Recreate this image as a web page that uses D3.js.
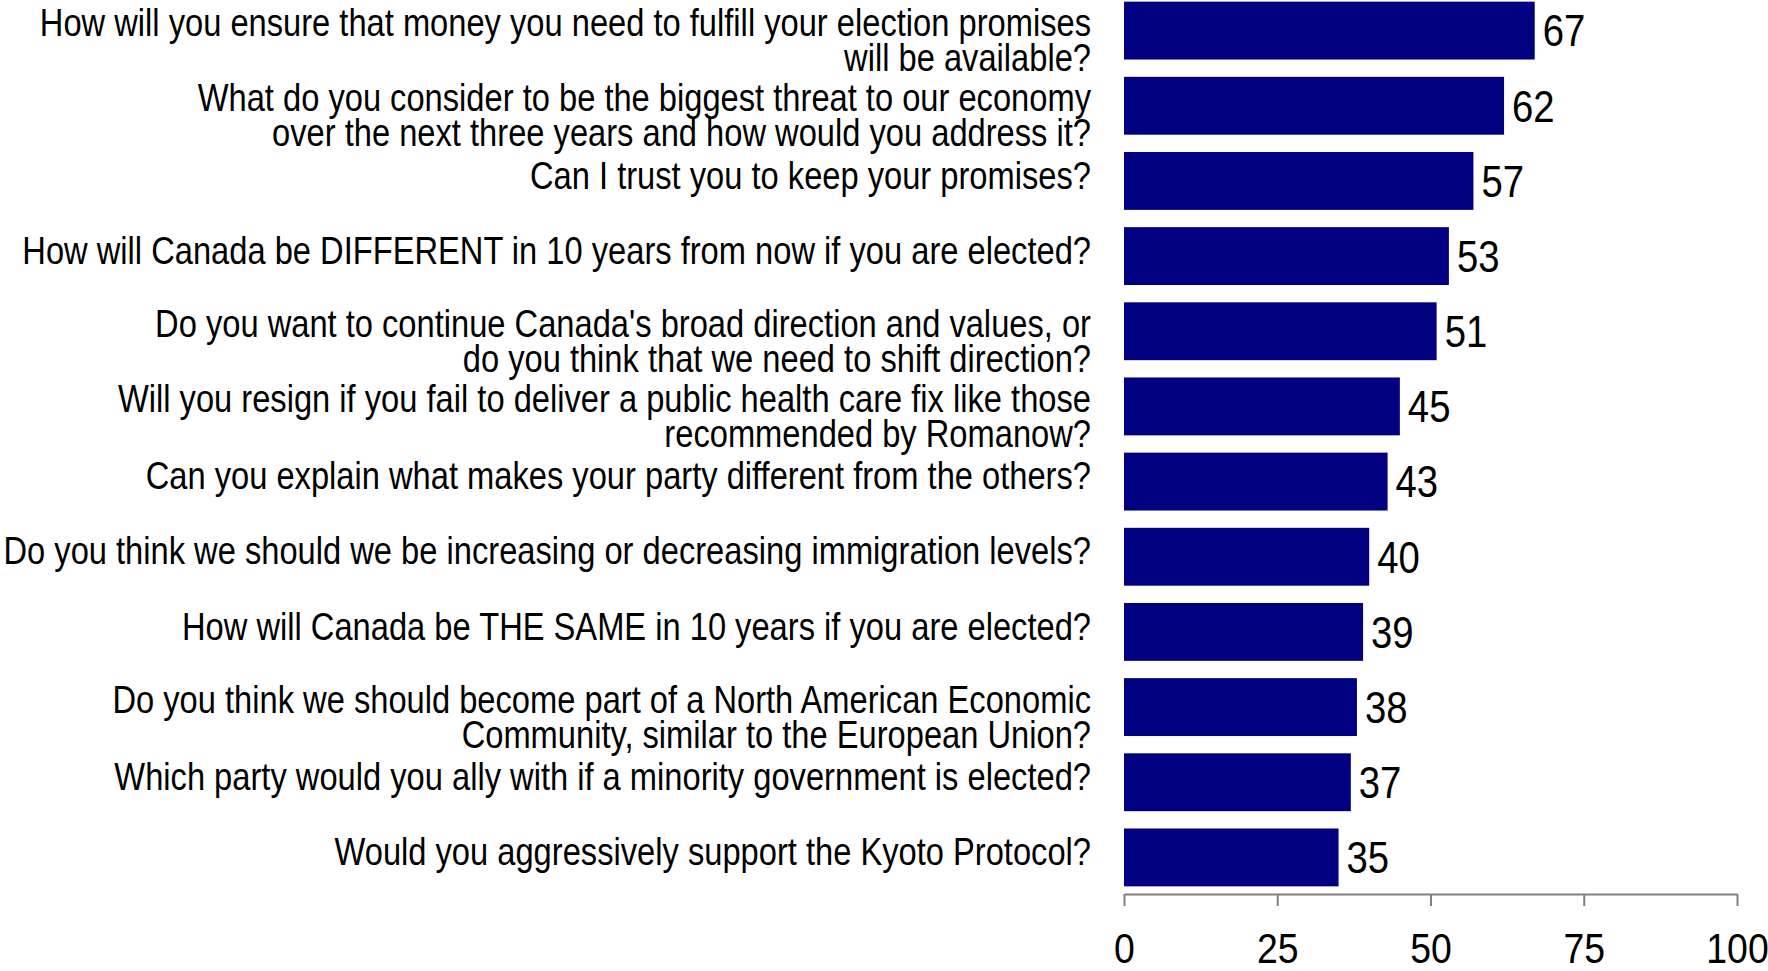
<!DOCTYPE html>
<html>
<head>
<meta charset="utf-8">
<script src="https://cdnjs.cloudflare.com/ajax/libs/d3/7.8.5/d3.min.js"></script>
<style>
  html, body { margin: 0; padding: 0; background: #fff; }
  svg { display: block; }
  .cat, .val, .tick text { font-family: "Liberation Sans Narrow", "Arial Narrow", "Liberation Sans", Arial, sans-serif; fill: #000; }
</style>
</head>
<body>
<svg id="chart"></svg>
<script>
// questions, top to bottom (each entry = the lines of the label)
var questions = [
  ["How will you ensure that money you need to fulfill your election promises", "will be available?"],
  ["What do you consider to be the biggest threat to our economy", "over the next three years and how would you address it?"],
  ["Can I trust you to keep your promises?"],
  ["How will Canada be DIFFERENT in 10 years from now if you are elected?"],
  ["Do you want to continue Canada's broad direction and values, or", "do you think that we need to shift direction?"],
  ["Will you resign if you fail to deliver a public health care fix like those", "recommended by Romanow?"],
  ["Can you explain what makes your party different from the others?"],
  ["Do you think we should we be increasing or decreasing immigration levels?"],
  ["How will Canada be THE SAME in 10 years if you are elected?"],
  ["Do you think we should become part of a North American Economic", "Community, similar to the European Union?"],
  ["Which party would you ally with if a minority government is elected?"],
  ["Would you aggressively support the Kyoto Protocol?"]
];
var values = [67, 62, 57, 53, 51, 45, 43, 40, 39, 38, 37, 35];
var xTicks = [0, 25, 50, 75, 100];

var width = 1768, height = 971;
var plotLeft = 1124, plotRight = 1737, axisY = 894;
var squeeze = 0.87;    // the original uses a narrow face
var catSqueeze = 0.86;

var svg = d3.select("#chart")
  .attr("width", width)
  .attr("height", height);

var x = d3.scaleLinear()
  .domain([0, 100])
  .range([plotLeft, plotRight]);

var y = d3.scaleBand()
  .domain(d3.range(values.length))
  .range([-7, 895])
  .paddingInner(0.23)
  .paddingOuter(0.115);

// bars
svg.selectAll(".bar")
  .data(values)
  .enter()
  .append("rect")
  .attr("class", "bar")
  .attr("x", x(0))
  .attr("y", function(d, i) { return y(i); })
  .attr("width", function(d) { return x(d) - x(0); })
  .attr("height", y.bandwidth())
  .style("fill", "#000080");

// value labels
svg.selectAll(".val")
  .data(values)
  .enter()
  .append("text")
  .attr("class", "val")
  .attr("transform", function(d, i) {
    return "translate(" + (x(d) + 8) + "," + (y(i) + y.bandwidth() / 2) + ") scale(" + squeeze + ",1)";
  })
  .attr("dy", "0.36em")
  .style("font-size", "44px")
  .text(function(d) { return d; });

// category labels
var lineH = 35;
var cats = svg.selectAll(".cat")
  .data(questions)
  .enter()
  .append("text")
  .attr("class", "cat")
  .attr("text-anchor", "end")
  .style("font-size", "38px")
  .attr("transform", function(d, i) {
    var c = y(i) + y.bandwidth() / 2;
    var off = d.length > 1 ? -8 : -6;
    return "translate(1091," + (c + off) + ") scale(" + catSqueeze + ",1)";
  });

cats.selectAll("tspan")
  .data(function(d) { return d; })
  .enter()
  .append("tspan")
  .attr("x", 0)
  .attr("y", function(d, j) { return j * lineH; })
  .attr("dy", "0.36em")
  .text(function(d) { return d; });

// x axis
var axis = svg.append("g")
  .attr("transform", "translate(0," + axisY + ")")
  .call(d3.axisBottom(x).tickValues(xTicks).tickSize(12).tickPadding(26).tickSizeOuter(0));

axis.select(".domain").attr("stroke", "#808080").attr("stroke-width", 2);
axis.selectAll(".tick line").attr("stroke", "#808080").attr("stroke-width", 2);
axis.selectAll(".tick text")
  .style("font-size", "43px")
  .attr("fill", "#000")
  .attr("transform", "scale(" + squeeze + ",1)");
</script>
</body>
</html>
